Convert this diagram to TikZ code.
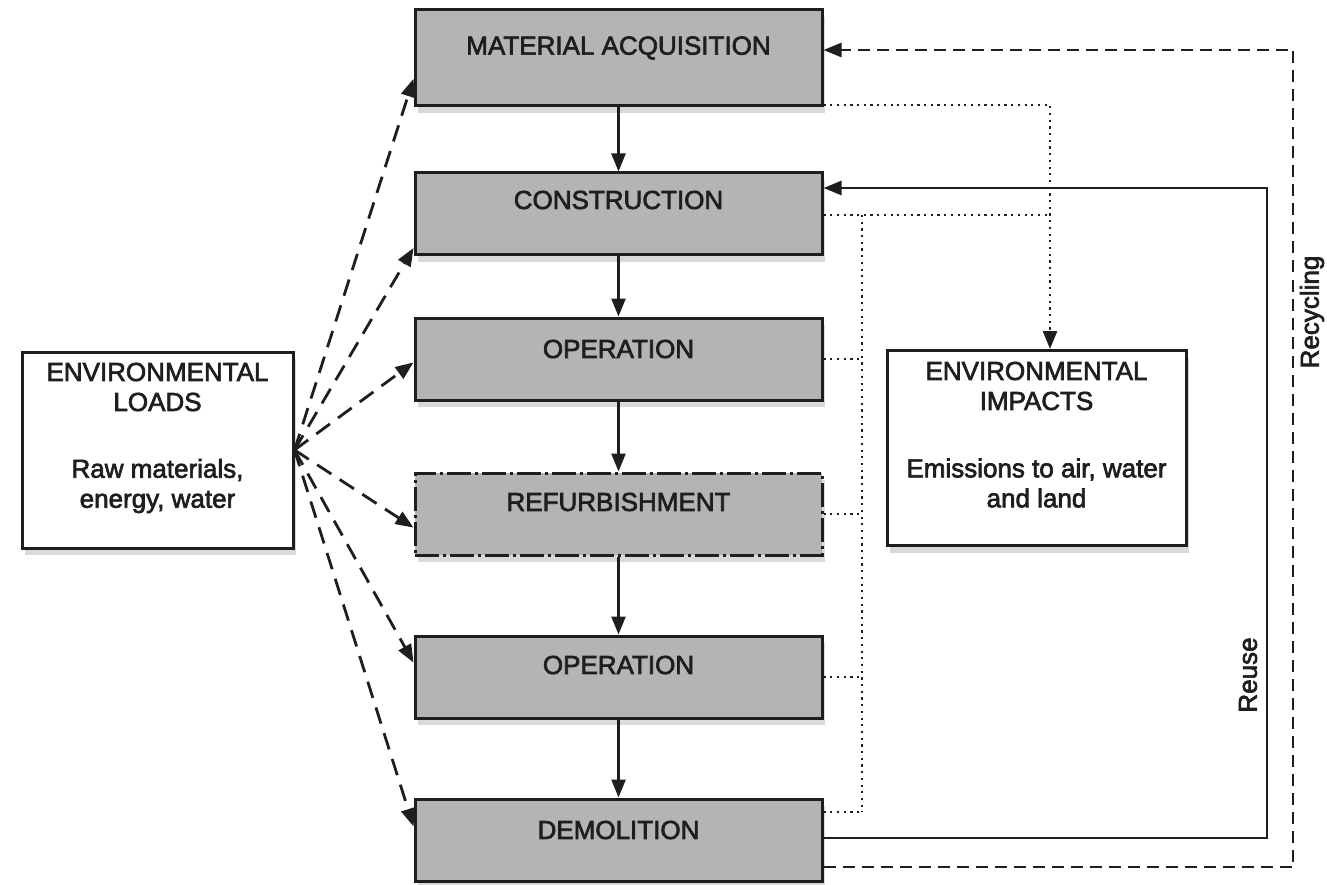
\documentclass[tikz,border=0pt]{standalone}
\usepackage{fontspec}
\setmainfont{Liberation Sans}[BoldFont={Liberation Sans}, BoldFeatures={FakeBold=2.5}]
\usetikzlibrary{arrows.meta,shadows,calc}
\definecolor{boxgray}{RGB}{180,180,180}
\definecolor{ink}{RGB}{30,30,30}
\begin{document}
\begin{tikzpicture}[x=1pt,y=-1pt,
  stage/.style={draw=ink, line width=3pt, fill=boxgray, minimum width=407pt, minimum height=82pt,
    drop shadow={shadow xshift=3pt, shadow yshift=-7pt, opacity=0.3}},
  envbox/.style={draw=ink, line width=3pt, fill=white,
    drop shadow={shadow xshift=3pt, shadow yshift=-7pt, opacity=0.3}},
  refurb/.style={dash pattern=on 24pt off 4pt on 3pt off 4pt},
  lbl/.style={text=ink, font=\bfseries\fontsize{26}{30}\selectfont, align=center, inner sep=0pt},
  tip/.style={-{Triangle[length=18pt,width=14pt]}},
  flow/.style={draw=ink, line width=2.6pt, tip},
  dotline/.style={draw=ink, line width=2.8pt, dash pattern=on 2.2pt off 4.5pt},
  loadarrow/.style={draw=ink, line width=2.8pt, dash pattern=on 17pt off 10pt, tip},
  recyc/.style={draw=ink, line width=2.8pt, dash pattern=on 12pt off 7pt, tip},
  reuse/.style={draw=ink, line width=2.6pt, tip}
]
\useasboundingbox (0,0) rectangle (1327,885);

% stage boxes
\node[stage, minimum height=96pt] (ma) at (618.5,58) {};
\node[stage] (con) at (618.5,214) {};
\node[stage] (op1) at (618.5,359) {};
\node[stage, refurb] (ref) at (618.5,514) {};
\node[stage] (op2) at (618.5,677) {};
\node[stage] (dem) at (618.5,840) {};

\node[lbl] (ma-t) at (618.5,48) {MATERIAL ACQUISITION};
\node[lbl] (con-t) at (618.5,200) {CONSTRUCTION};
\node[lbl] (op1-t) at (618.5,349) {OPERATION};
\node[lbl] (ref-t) at (618.5,502) {REFURBISHMENT};
\node[lbl] (op2-t) at (618.5,665) {OPERATION};
\node[lbl] (dem-t) at (618.5,830) {DEMOLITION};

% side boxes
\node[envbox, minimum width=271pt, minimum height=196pt] (loads) at (157.5,450) {};
\node[lbl] (loads-h) at (157.5,387) {ENVIRONMENTAL\\LOADS};
\node[lbl] (loads-b) at (157.5,486) {Raw materials,\\energy, water};

\node[envbox, minimum width=299pt, minimum height=195pt] (imp) at (1036.5,448) {};
\node[lbl] (imp-h) at (1036.5,386) {ENVIRONMENTAL\\IMPACTS};
\node[lbl] (imp-b) at (1036.5,483) {Emissions to air, water\\and land};

% vertical flow
\draw[flow] (ma.south) -- (con.north);
\draw[flow] (con.south) -- (op1.north);
\draw[flow] (op1.south) -- (ref.north);
\draw[flow] (ref.south) -- (op2.north);
\draw[flow] (op2.south) -- (dem.north);

% environmental loads arrows
\draw[loadarrow] (loads.east) -- ($(ma.north west)!0.71!(ma.south west)$);
\draw[loadarrow] (loads.east) -- ($(con.north west)!0.9!(con.south west)$);
\draw[loadarrow] (loads.east) -- ($(op1.north west)!0.54!(op1.south west)$);
\draw[loadarrow] (loads.east) -- ($(ref.north west)!0.66!(ref.south west)$);
\draw[loadarrow] (loads.east) -- ($(op2.north west)!0.33!(op2.south west)$);
\draw[loadarrow] (loads.east) -- ($(dem.north west)!0.34!(dem.south west)$);

% dotted impacts
\coordinate (j1) at (1050,105);
\coordinate (j2) at (1050,215);
\coordinate (vt) at (862,215);
\coordinate (vb) at (862,812);
\draw[dotline, tip] (ma.east |- j1) -- (j1) -- (j1 |- imp.north);
\draw[dotline] (con.east |- j2) -- (j2);
\draw[dotline] (vt) -- (vb);
\draw[dotline] (op1.east) -- (op1.east -| vt);
\draw[dotline] (ref.east) -- (ref.east -| vt);
\draw[dotline] (op2.east) -- (op2.east -| vt);
\draw[dotline] (dem.east |- vb) -- (vb);

% reuse
\coordinate (ru1) at (1267,838);
\coordinate (ru2) at (1267,188);
\draw[reuse] (dem.east |- ru1) -- (ru1) -- (ru2) -- (con.east |- ru2);
\node[lbl, rotate=90] (reuse-l) at (1248,675) {Reuse};

% recycling
\coordinate (rc1) at (1293,867);
\coordinate (rc2) at (1293,50);
\draw[recyc] (dem.east |- rc1) -- (rc1) -- (rc2) -- (ma.east |- rc2);
\node[lbl, rotate=90] (recyc-l) at (1312,312) {Recycling};
\end{tikzpicture}
\end{document}
